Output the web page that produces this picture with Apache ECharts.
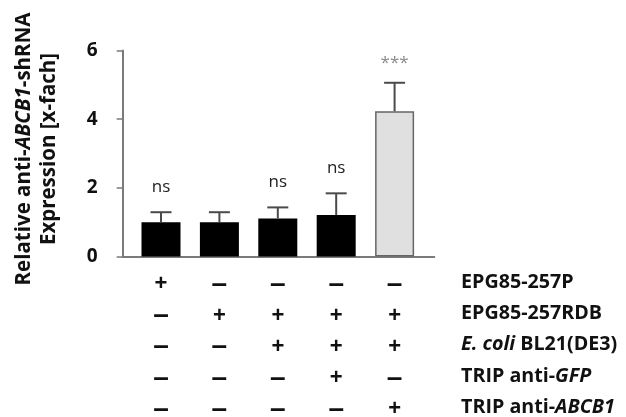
<!DOCTYPE html>
<html><head><meta charset="utf-8">
<script src="https://cdn.jsdelivr.net/npm/echarts@6/dist/echarts.min.js"></script>
<style>html,body{margin:0;padding:0;background:#fff}#c{width:626px;height:417px}</style>
</head><body><div id="c"></div>
<script>
// ---- data ----
var groups = [1, 2, 3, 4, 5];
var means = [1.00, 1.00, 1.11, 1.21, 4.23];
var errors = [0.29, 0.29, 0.32, 0.63, 0.83];
var sigLabels = ['ns', '', 'ns', 'ns', '***'];
var yTicks = [0, 2, 4, 6];
var rowNames = ['EPG85-257P', 'EPG85-257RDB', 'E. coli BL21(DE3)', 'TRIP anti-GFP', 'TRIP anti-ABCB1'];
var rowEPG85P   = [1, 0, 0, 0, 0];
var rowEPG85RDB = [0, 1, 1, 1, 1];
var rowEcoli    = [0, 0, 1, 1, 1];
var rowTripGFP  = [0, 0, 0, 1, 0];
var rowTripABCB1= [0, 0, 0, 0, 1];
var rows = [rowEPG85P, rowEPG85RDB, rowEcoli, rowTripGFP, rowTripABCB1];
var rowRich = [
  '{b|EPG85-257P}',
  '{b|EPG85-257RDB}',
  '{bi|E. coli}{b| BL21(DE3)}',
  '{b|TRIP anti-}{bi|GFP}',
  '{b|TRIP anti-}{bi|ABCB1}'
];

var FONT = 'Open Sans';
var chart = echarts.init(document.getElementById('c'), null, {renderer: 'canvas'});

var gridLeft = 122.7, gridTop = 50.5, gridRight = 191.7, gridBottom = 160.5;
var rowGap = 31.3;

var barData = groups.map(function (g, i) {
  var last = i === groups.length - 1;
  return {
    value: [g, means[i]],
    itemStyle: last ? {color: '#e0e0e0', borderColor: '#666', borderWidth: 1.5}
                    : {color: '#000', borderColor: '#000', borderWidth: 0}
  };
});
var errData = groups.map(function (g, i) { return [g, means[i], errors[i]]; });

var rowGraphics = rowRich.map(function (t, i) {
  return {
    type: 'text', left: 461, top: 281 + i * rowGap - 9,
    style: {
      text: t, fill: '#111', verticalAlign: 'top',
      rich: {
        b: {fontFamily: FONT, fontWeight: 'bold', fontSize: 19.7, fill: '#111', lineHeight: 26},
        bi: {fontFamily: FONT, fontWeight: 'bold', fontStyle: 'italic', fontSize: 19.7, fill: '#111', lineHeight: 26}
      }
    }
  };
});

var option = {
  animation: false,
  backgroundColor: '#fff',
  grid: {left: gridLeft, top: gridTop, right: gridRight, bottom: gridBottom,
         containLabel: false, outerBoundsMode: 'none'},
  xAxis: {
    type: 'value', min: 0.344, max: 5.68,
    splitLine: {show: false},
    axisLine: {show: true, onZero: false, lineStyle: {color: '#7a7a7a', width: 2}},
    axisTick: {show: false},
    axisLabel: {
      show: true, customValues: groups, margin: 12,
      formatter: function (v) {
        var idx = Math.round(v) - 1;
        return rows.map(function (r) { return r[idx] ? '{p|+}' : '{m|–}'; }).join('\n');
      },
      rich: {
        p: {fontFamily: 'Liberation Sans', fontWeight: 'bold', fontSize: 22, lineHeight: rowGap, color: '#111'},
        m: {fontFamily: 'Liberation Sans', fontWeight: 'bold', fontSize: 28, lineHeight: rowGap, color: '#111'}
      }
    }
  },
  yAxis: {
    type: 'value', min: yTicks[0], max: yTicks[yTicks.length - 1], interval: 2,
    splitLine: {show: false},
    axisLine: {show: true, lineStyle: {color: '#7a7a7a', width: 2}},
    axisTick: {show: true, length: 6, lineStyle: {color: '#7a7a7a', width: 1.5}},
    axisLabel: {fontFamily: FONT, fontWeight: 'bold', fontSize: 19, color: '#111', margin: 25}
  },
  graphic: [
    {
      type: 'text', x: 37, y: 149, rotation: Math.PI / 2,
      style: {
        text: '{b|Relative anti-}{bi|ABCB1}{b|-shRNA}\n{b|Expression [x-fach]}',
        align: 'center', verticalAlign: 'middle',
        rich: {
          b: {fontFamily: FONT, fontWeight: 'bold', fontSize: 20.5, fill: '#111', lineHeight: 25, align: 'center'},
          bi: {fontFamily: FONT, fontWeight: 'bold', fontStyle: 'italic', fontSize: 20.5, fill: '#111', lineHeight: 25}
        }
      }
    }
  ].concat(rowGraphics),
  series: [
    {type: 'bar', data: barData, barWidth: 39, z: 2},
    {
      type: 'custom', data: errData, z: 3,
      renderItem: function (params, api) {
        var x = api.value(0), m = api.value(1), e = api.value(2);
        var base = api.coord([x, m]);
        var top = api.coord([x, m + e]);
        var i = params.dataIndex;
        var isStar = sigLabels[i] === '***';
        return {
          type: 'group',
          children: [
            {type: 'line', shape: {x1: base[0], y1: base[1], x2: top[0], y2: top[1]},
             style: {stroke: '#4a4a4a', lineWidth: 2}},
            {type: 'line', shape: {x1: top[0] - 10.5, y1: top[1], x2: top[0] + 10.5, y2: top[1]},
             style: {stroke: '#4a4a4a', lineWidth: 2}},
            {type: 'text', x: top[0], y: top[1] - (isStar ? 20 : 25),
             style: {text: sigLabels[i], align: 'center', verticalAlign: 'middle',
                     fontFamily: FONT, fontSize: 17, fill: isStar ? '#8a8a8a' : '#222'}}
          ]
        };
      }
    }
  ]
};
chart.setOption(option);
</script>
</body></html>
